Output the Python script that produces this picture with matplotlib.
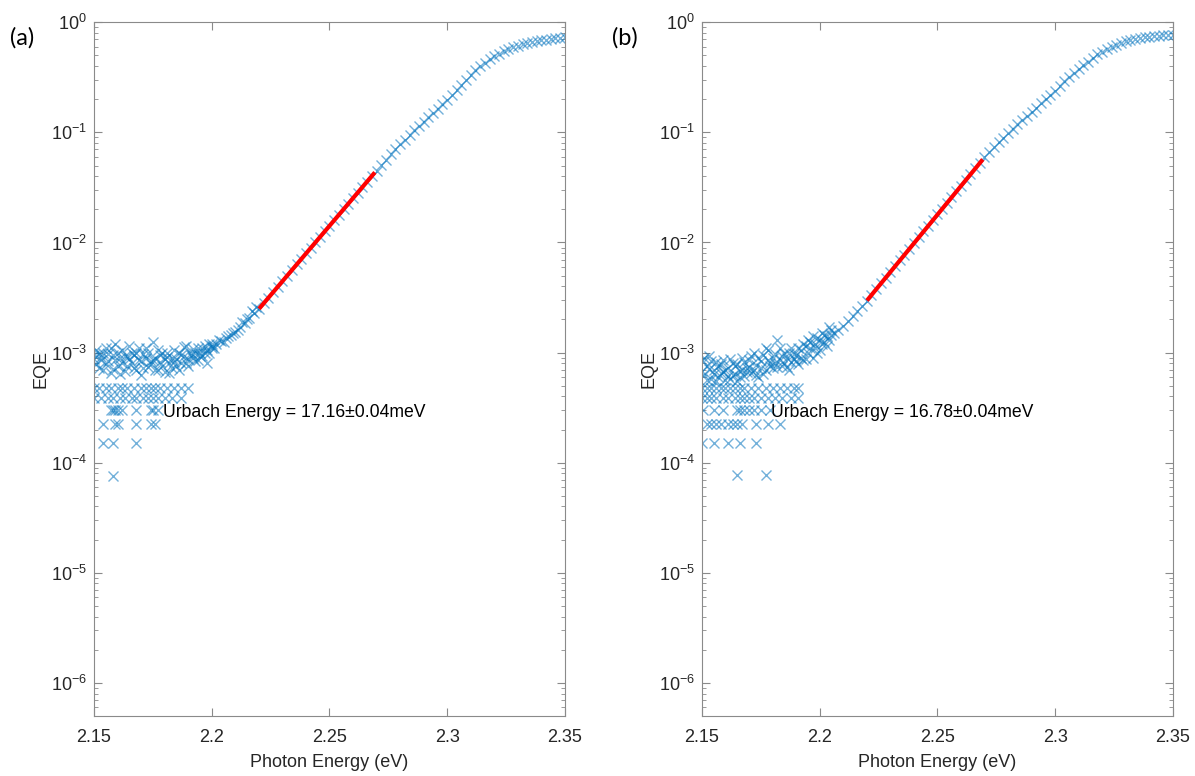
import numpy as np
import matplotlib
matplotlib.use("Agg")
import matplotlib.pyplot as plt
from matplotlib.ticker import LogLocator, FixedLocator, NullFormatter

plt.rcParams['font.family'] = ['Liberation Sans', 'DejaVu Sans']
plt.rcParams['mathtext.fontset'] = 'custom'
plt.rcParams['mathtext.rm'] = 'Liberation Sans'
plt.rcParams['mathtext.it'] = 'Liberation Sans:italic'

# ---- panel (a) data ----
# smooth edge, 2 meV steps
edge_x_a = [2.200, 2.202, 2.204, 2.206, 2.208, 2.210, 2.212, 2.214, 2.216, 2.218,
            2.220, 2.222, 2.224, 2.226, 2.228, 2.230, 2.232, 2.234, 2.236, 2.238,
            2.240, 2.242, 2.244, 2.246, 2.248, 2.250, 2.252, 2.254, 2.256, 2.258,
            2.260, 2.262, 2.264, 2.266, 2.268, 2.270, 2.272, 2.274, 2.276, 2.278,
            2.280, 2.282, 2.284, 2.286, 2.288, 2.290, 2.292, 2.294, 2.296, 2.298,
            2.300, 2.302, 2.304, 2.306, 2.308, 2.310, 2.312, 2.314, 2.316, 2.318,
            2.320, 2.322, 2.324, 2.326, 2.328, 2.330, 2.332, 2.334, 2.336, 2.338,
            2.340, 2.342, 2.344, 2.346, 2.348, 2.350]
edge_y_a = [1.15e-3, 1.2e-3, 1.28e-3, 1.35e-3, 1.45e-3, 1.55e-3, 1.7e-3, 1.85e-3, 2.05e-3, 2.3e-3,
            2.5e-3, 2.81e-3, 3.15e-3, 3.54e-3, 3.97e-3, 4.46e-3, 5.0e-3, 5.62e-3, 6.31e-3, 7.08e-3,
            7.95e-3, 8.9e-3, 1.0e-2, 1.12e-2, 1.26e-2, 1.42e-2, 1.59e-2, 1.78e-2, 2.0e-2, 2.25e-2,
            2.52e-2, 2.83e-2, 3.18e-2, 3.57e-2, 4.0e-2, 4.5e-2, 5.05e-2, 5.65e-2, 6.3e-2, 7.0e-2,
            7.8e-2, 8.6e-2, 9.5e-2, 0.104, 0.114, 0.125, 0.137, 0.15, 0.164, 0.18,
            0.198, 0.22, 0.245, 0.272, 0.302, 0.335, 0.367, 0.398, 0.43, 0.46,
            0.49, 0.518, 0.545, 0.57, 0.593, 0.613, 0.632, 0.648, 0.662, 0.675,
            0.686, 0.696, 0.705, 0.713, 0.721, 0.728]
rise_x_a = [2.201, 2.203, 2.205, 2.207, 2.209, 2.211, 2.213, 2.215, 2.217, 2.219]
rise_y_a = [1.1e-3, 1.3e-3, 1.25e-3, 1.4e-3, 1.5e-3, 1.6e-3, 1.9e-3, 2.0e-3, 2.4e-3, 2.6e-3]

# noise floor, 1 meV steps, two scans
noise_x_a = [2.150, 2.151, 2.152, 2.153, 2.154, 2.155, 2.156, 2.157, 2.158, 2.159,
             2.160, 2.161, 2.162, 2.163, 2.164, 2.165, 2.166, 2.167, 2.168, 2.169,
             2.170, 2.171, 2.172, 2.173, 2.174, 2.175, 2.176, 2.177, 2.178, 2.179,
             2.180, 2.181, 2.182, 2.183, 2.184, 2.185, 2.186, 2.187, 2.188, 2.189,
             2.190, 2.191, 2.192, 2.193, 2.194, 2.195, 2.196, 2.197, 2.198, 2.199, 2.200]
noise1_y_a = [8.8e-4, 7.9e-4, 1.0e-3, 9.2e-4, 7.0e-4, 1.1e-3, 8.3e-4, 6.5e-4, 9.6e-4, 1.2e-3,
              7.6e-4, 8.9e-4, 1.05e-3, 6.8e-4, 9.4e-4, 1.15e-3, 8.0e-4, 7.2e-4, 1.0e-3, 8.6e-4,
              6.2e-4, 9.8e-4, 1.1e-3, 7.4e-4, 8.4e-4, 1.25e-3, 9.0e-4, 7.0e-4, 8.2e-4, 1.0e-3,
              6.6e-4, 9.2e-4, 8.0e-4, 7.3e-4, 1.05e-3, 8.7e-4, 6.9e-4, 9.5e-4, 1.12e-3, 8.1e-4,
              7.6e-4, 1.0e-3, 9.0e-4, 8.4e-4, 1.1e-3, 1.0e-3, 9.3e-4, 1.15e-3, 1.05e-3, 1.2e-3, 1.1e-3]
noise2_y_a = [9.5e-4, 1.05e-3, 7.3e-4, 8.5e-4, 1.0e-3, 7.8e-4, 9.7e-4, 1.1e-3, 7.1e-4, 8.6e-4,
              1.0e-3, 6.4e-4, 8.0e-4, 9.3e-4, 7.5e-4, 8.8e-4, 1.0e-3, 9.6e-4, 6.9e-4, 1.1e-3,
              8.3e-4, 7.2e-4, 9.0e-4, 1.0e-3, 7.8e-4, 8.5e-4, 7.0e-4, 1.05e-3, 9.5e-4, 7.6e-4,
              8.8e-4, 1.0e-3, 6.5e-4, 9.0e-4, 8.2e-4, 7.5e-4, 1.0e-3, 8.0e-4, 9.3e-4, 1.15e-3,
              8.7e-4, 9.6e-4, 1.08e-3, 1.0e-3, 8.6e-4, 9.4e-4, 1.1e-3, 1.0e-3, 8.0e-4, 1.0e-3, 1.2e-3]

# quantised low readings
low_x_a = [2.150, 2.152, 2.155, 2.157, 2.160, 2.162, 2.164, 2.167, 2.170, 2.172, 2.174, 2.176, 2.178, 2.181, 2.184, 2.187, 2.190,
           2.150, 2.153, 2.156, 2.158, 2.161, 2.163, 2.166, 2.168, 2.171, 2.173, 2.175, 2.177, 2.180, 2.183, 2.187,
           2.157, 2.158, 2.159, 2.160, 2.162, 2.168, 2.174, 2.175, 2.177,
           2.154, 2.159, 2.160, 2.168, 2.174, 2.176,
           2.154, 2.158, 2.168,
           2.158]
low_y_a = [4.8e-4] * 17 + [3.9e-4] * 15 + [3.0e-4] * 9 + [2.26e-4] * 6 + [1.5e-4] * 3 + [7.6e-5]

fit_x_a = [2.2201, 2.2693]
fit_y_a = [2.5e-3, 4.33e-2]

# ---- panel (b) data ----
edge_x_b = [2.206, 2.208, 2.210, 2.212, 2.214, 2.216, 2.218,
            2.220, 2.222, 2.224, 2.226, 2.228, 2.230, 2.232, 2.234, 2.236, 2.238,
            2.240, 2.242, 2.244, 2.246, 2.248, 2.250, 2.252, 2.254, 2.256, 2.258,
            2.260, 2.262, 2.264, 2.266, 2.268, 2.270, 2.272, 2.274, 2.276, 2.278,
            2.280, 2.282, 2.284, 2.286, 2.288, 2.290, 2.292, 2.294, 2.296, 2.298,
            2.300, 2.302, 2.304, 2.306, 2.308, 2.310, 2.312, 2.314, 2.316, 2.318,
            2.320, 2.322, 2.324, 2.326, 2.328, 2.330, 2.332, 2.334, 2.336, 2.338,
            2.340, 2.342, 2.344, 2.346, 2.348, 2.350]
edge_y_b = [1.5e-3, 1.6e-3, 1.75e-3, 1.95e-3, 2.15e-3, 2.4e-3, 2.65e-3,
            2.97e-3, 3.35e-3, 3.78e-3, 4.26e-3, 4.8e-3, 5.42e-3, 6.11e-3, 6.89e-3, 7.77e-3, 8.76e-3,
            9.88e-3, 1.11e-2, 1.26e-2, 1.42e-2, 1.6e-2, 1.8e-2, 2.03e-2, 2.29e-2, 2.58e-2, 2.91e-2,
            3.28e-2, 3.7e-2, 4.18e-2, 4.71e-2, 5.31e-2, 5.95e-2, 6.6e-2, 7.3e-2, 8.1e-2, 8.9e-2,
            9.8e-2, 0.108, 0.118, 0.129, 0.141, 0.154, 0.168, 0.183, 0.20, 0.218,
            0.24, 0.265, 0.29, 0.318, 0.347, 0.378, 0.41, 0.44, 0.475, 0.51,
            0.54, 0.57, 0.60, 0.625, 0.65, 0.67, 0.69, 0.705, 0.72, 0.73,
            0.74, 0.748, 0.755, 0.76, 0.765, 0.77]

noise_x_b = [2.150, 2.151, 2.152, 2.153, 2.154, 2.155, 2.156, 2.157, 2.158, 2.159,
             2.160, 2.161, 2.162, 2.163, 2.164, 2.165, 2.166, 2.167, 2.168, 2.169,
             2.170, 2.171, 2.172, 2.173, 2.174, 2.175, 2.176, 2.177, 2.178, 2.179,
             2.180, 2.181, 2.182, 2.183, 2.184, 2.185, 2.186, 2.187, 2.188, 2.189,
             2.190, 2.191, 2.192, 2.193, 2.194, 2.195, 2.196, 2.197, 2.198, 2.199,
             2.200, 2.201, 2.202, 2.203, 2.204, 2.205]
noise1_y_b = [8.5e-4, 6.2e-4, 7.5e-4, 9.4e-4, 5.8e-4, 7.0e-4, 8.2e-4, 6.0e-4, 7.8e-4, 6.6e-4,
              5.6e-4, 7.2e-4, 8.8e-4, 6.3e-4, 7.5e-4, 5.5e-4, 6.8e-4, 9.0e-4, 6.1e-4, 7.3e-4,
              8.5e-4, 6.5e-4, 1.0e-3, 7.7e-4, 6.0e-4, 8.3e-4, 9.5e-4, 7.0e-4, 1.05e-3, 8.0e-4,
              7.3e-4, 9.8e-4, 1.3e-3, 8.5e-4, 7.6e-4, 1.0e-3, 9.0e-4, 7.0e-4, 1.1e-3, 8.8e-4,
              9.5e-4, 7.8e-4, 1.05e-3, 8.6e-4, 1.15e-3, 1.0e-3, 1.25e-3, 9.0e-4, 1.1e-3, 1.35e-3,
              1.05e-3, 1.2e-3, 1.45e-3, 1.15e-3, 1.3e-3, 1.6e-3]
noise2_y_b = [6.8e-4, 9.0e-4, 5.6e-4, 7.1e-4, 8.3e-4, 6.4e-4, 5.5e-4, 7.6e-4, 6.5e-4, 8.6e-4,
              7.0e-4, 6.1e-4, 5.7e-4, 8.0e-4, 6.4e-4, 7.9e-4, 6.0e-4, 7.0e-4, 8.2e-4, 6.6e-4,
              7.4e-4, 9.3e-4, 7.0e-4, 6.3e-4, 8.9e-4, 7.2e-4, 6.4e-4, 1.1e-3, 8.6e-4, 7.5e-4,
              9.0e-4, 8.1e-4, 7.4e-4, 1.1e-3, 9.3e-4, 8.0e-4, 7.4e-4, 1.0e-3, 8.2e-4, 9.7e-4,
              8.3e-4, 1.1e-3, 9.0e-4, 1.2e-3, 8.8e-4, 1.3e-3, 1.1e-3, 1.4e-3, 1.2e-3, 1.0e-3,
              1.3e-3, 1.5e-3, 1.25e-3, 1.4e-3, 1.7e-3, 1.45e-3]

low_x_b = [2.150, 2.152, 2.154, 2.156, 2.158, 2.160, 2.162, 2.164, 2.166, 2.168, 2.171, 2.174, 2.177, 2.180, 2.183, 2.186, 2.189, 2.191,
           2.150, 2.152, 2.154, 2.156, 2.159, 2.161, 2.164, 2.166, 2.168, 2.170, 2.172, 2.175, 2.178, 2.181, 2.184, 2.188, 2.191,
           2.1505, 2.155, 2.159, 2.165, 2.166, 2.168, 2.170, 2.172, 2.175, 2.179,
           2.152, 2.154, 2.156, 2.158, 2.161, 2.163, 2.165, 2.167, 2.173, 2.178, 2.183,
           2.150, 2.155, 2.161, 2.166, 2.173,
           2.165, 2.177]
low_y_b = [4.8e-4] * 18 + [3.9e-4] * 17 + [3.0e-4] * 10 + [2.26e-4] * 11 + [1.5e-4] * 5 + [7.7e-5] * 2

fit_x_b = [2.2201, 2.2693]
fit_y_b = [2.97e-3, 5.68e-2]

labels = ['(a)', '(b)']
urbach = ['Urbach Energy = 17.16\u00b10.04meV', 'Urbach Energy = 16.78\u00b10.04meV']
yticks = [1e-6, 1e-5, 1e-4, 1e-3, 1e-2, 1e-1, 1]
yticklabels = ['$10^{-6}$', '$10^{-5}$', '$10^{-4}$', '$10^{-3}$', '$10^{-2}$', '$10^{-1}$', '$10^{0}$']

blue = '#0072BD'
axcol = '#8a8a8a'
txtcol = '#262626'

fig = plt.figure(figsize=(11.95, 7.76), dpi=100)
ax1 = fig.add_axes([0.0787, 0.0773, 0.394, 0.894])
ax2 = fig.add_axes([0.5874, 0.0773, 0.394, 0.894])

panels = [
    (ax1, edge_x_a, edge_y_a, rise_x_a, rise_y_a, noise_x_a, noise1_y_a, noise2_y_a, low_x_a, low_y_a, fit_x_a, fit_y_a),
    (ax2, edge_x_b, edge_y_b, [], [], noise_x_b, noise1_y_b, noise2_y_b, low_x_b, low_y_b, fit_x_b, fit_y_b),
]

for i, (ax, ex, ey, rx, ry, nx, n1, n2, lx, ly, fx, fy) in enumerate(panels):
    mk = dict(linestyle='none', marker='x', markersize=7, markeredgewidth=1.0,
              color=blue, alpha=0.55)
    ax.plot(nx, n1, **mk)
    ax.plot(nx, n2, **mk)
    ax.plot(lx, ly, **mk)
    ax.plot(ex, ey, **mk)
    if rx:
        ax.plot(rx, ry, **mk)
    ax.plot(fx, fy, color='red', linewidth=3, solid_capstyle='butt')

    ax.set_yscale('log')
    ax.set_xlim(2.15, 2.35)
    ax.set_ylim(5e-7, 1)
    ax.xaxis.set_major_locator(FixedLocator([2.15, 2.2, 2.25, 2.3, 2.35]))
    ax.set_xticklabels(['2.15', '2.2', '2.25', '2.3', '2.35'])
    ax.yaxis.set_major_locator(FixedLocator(yticks))
    ax.set_yticklabels(yticklabels)
    ax.yaxis.set_minor_locator(LogLocator(base=10, subs=np.arange(2, 10), numticks=20))
    ax.yaxis.set_minor_formatter(NullFormatter())
    ax.tick_params(which='both', direction='in', top=True, right=True,
                   color=axcol, labelcolor=txtcol, labelsize=13)
    ax.tick_params(axis='x', pad=9)
    ax.tick_params(axis='y', pad=5)
    ax.tick_params(which='major', length=6)
    ax.tick_params(which='minor', length=3)
    for s in ax.spines.values():
        s.set_color(axcol)
        s.set_linewidth(0.8)
    ax.set_xlabel('Photon Energy (eV)', fontsize=13, color=txtcol, labelpad=6)
    ax.set_ylabel('EQE', fontsize=13, color=txtcol, labelpad=1)
    ax.text(2.1795, 2.85e-4, urbach[i], fontsize=12.7, color='black',
            ha='left', va='center')

fig.text(0.008, 0.942, labels[0], fontsize=17, family=['Lato', 'DejaVu Sans'], color='black')
fig.text(0.512, 0.942, labels[1], fontsize=17, family=['Lato', 'DejaVu Sans'], color='black')

fig.savefig('out.png', dpi=100)
